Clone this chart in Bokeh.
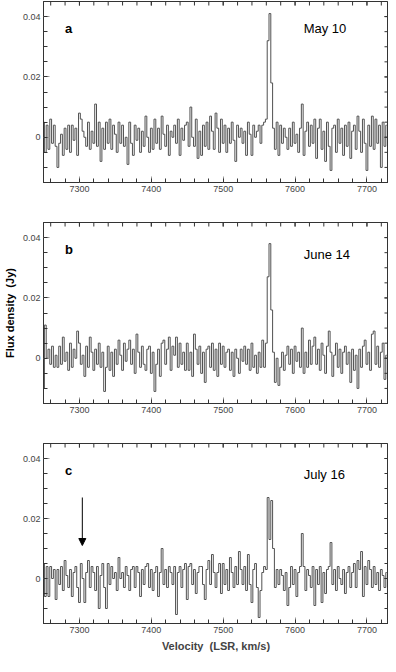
import numpy as np
from bokeh.plotting import figure
from bokeh.models import FixedTicker, Label, Arrow, NormalHead, Range1d
from bokeh.layouts import column
from bokeh.embed import file_html
from bokeh.resources import INLINE

# channel grid (LSR velocity, km/s)
v_start = 7250.0
dv = 2.5
n_chan = 192
velocity = v_start + dv * np.arange(n_chan)

# flux density (Jy), panel a: May 10
flux_may10 = [
    0.005, -0.005, 0.004, -0.004, 0.006, -0.002, 0.004, -0.003,
    -0.010, -0.002, 0.001, -0.006, 0.003, -0.004, 0.004, -0.005,
    0.004, -0.001, 0.003, -0.006, 0.008, 0.006, 0.002, 0.000,
    -0.003, 0.005, -0.004, 0.002, -0.002, 0.011, -0.003, 0.005,
    -0.008, 0.003, -0.004, 0.005, -0.002, 0.006, -0.004, 0.004,
    0.001, -0.005, 0.005, -0.002, 0.004, -0.003, 0.000, -0.009,
    0.005, -0.002, -0.006, 0.004, -0.001, 0.003, -0.005, 0.002,
    -0.003, 0.007, 0.000, -0.005, 0.003, -0.004, 0.006, -0.002,
    0.003, -0.004, 0.007, 0.001, -0.003, 0.004, -0.006, 0.002,
    0.000, 0.004, -0.002, 0.006, -0.006, 0.003, -0.001, 0.004,
    0.005, -0.003, 0.010, 0.000, -0.003, 0.006, -0.007, 0.002,
    -0.006, 0.004, -0.003, 0.005, -0.004, 0.007, 0.002, -0.004,
    0.008, 0.003, -0.005, 0.006, -0.002, 0.004, -0.005, 0.003,
    -0.002, 0.005, -0.001, -0.008, 0.004, 0.000, 0.003, -0.002,
    0.002, -0.006, 0.005, 0.001, -0.006, 0.004, 0.000, 0.002,
    0.004, -0.002, 0.004, 0.005, 0.006, 0.032, 0.041, 0.018,
    0.003, -0.004, 0.005, -0.006, 0.004, -0.002, 0.003, 0.000,
    -0.004, 0.003, -0.003, 0.005, -0.002, 0.001, -0.005, 0.003,
    0.011, -0.006, 0.002, 0.005, -0.003, 0.004, -0.002, 0.006,
    -0.007, 0.003, 0.006, -0.004, 0.002, -0.008, 0.005, -0.003,
    -0.011, 0.003, 0.004, -0.005, 0.006, -0.002, 0.003, -0.006,
    0.004, -0.003, 0.005, -0.007, 0.002, 0.004, -0.004, 0.007,
    0.002, -0.005, 0.006, -0.002, -0.011, 0.004, -0.003, 0.007,
    -0.004, 0.006, -0.002, 0.004, -0.010, 0.005, -0.003, 0.004,
]

# panel b: June 14
flux_jun14 = [
    -0.010, 0.011, 0.000, 0.003, -0.002, 0.004, -0.003, 0.001,
    -0.003, 0.004, -0.002, 0.007, -0.001, 0.002, -0.004, 0.005,
    -0.003, 0.003, 0.000, 0.009, 0.005, -0.002, 0.001, -0.006,
    0.004, -0.003, 0.007, 0.002, -0.004, 0.003, -0.002, 0.005,
    -0.003, 0.002, -0.011, -0.003, 0.004, -0.004, 0.002, -0.006,
    0.003, -0.002, 0.006, 0.001, -0.004, 0.005, -0.001, 0.003,
    0.006, -0.002, 0.003, -0.005, 0.008, 0.002, -0.003, 0.004,
    -0.002, -0.004, 0.003, 0.004, -0.005, 0.002, -0.011, -0.002,
    0.003, -0.006, 0.005, 0.006, -0.002, 0.003, 0.007, -0.004,
    0.004, 0.001, 0.007, -0.003, 0.005, -0.002, 0.002, -0.004,
    0.005, -0.004, 0.002, -0.006, 0.008, 0.003, -0.002, 0.004,
    -0.005, 0.002, -0.008, 0.003, 0.004, -0.003, 0.005, -0.004,
    0.003, -0.006, 0.005, -0.002, 0.004, -0.003, 0.002, 0.003,
    -0.004, 0.002, -0.006, 0.003, 0.000, -0.005, 0.003, -0.001,
    0.004, -0.002, 0.003, -0.004, 0.005, -0.003, 0.001, -0.005,
    0.002, -0.003, 0.006, -0.003, 0.005, 0.027, 0.038, 0.016,
    0.002, -0.008, 0.000, -0.009, -0.003, 0.002, -0.004, 0.001,
    0.004, -0.002, 0.003, -0.005, 0.004, -0.001, 0.002, -0.003,
    0.010, -0.005, 0.002, -0.003, 0.006, -0.002, 0.004, 0.007,
    -0.002, 0.003, -0.004, 0.005, 0.001, -0.005, 0.004, 0.009,
    0.002, -0.006, 0.001, 0.005, -0.003, 0.003, -0.005, 0.002,
    0.004, -0.002, 0.002, -0.008, 0.003, -0.004, 0.001, -0.010,
    0.003, -0.003, 0.004, 0.006, -0.002, 0.002, -0.004, 0.008,
    0.009, -0.002, 0.004, -0.003, 0.002, 0.005, -0.007, 0.001,
]

# panel c: July 16
flux_jul16 = [
    0.005, -0.006, 0.004, -0.006, 0.004, 0.000, 0.003, -0.007,
    0.003, -0.002, 0.004, -0.004, 0.006, 0.001, -0.003, 0.003,
    -0.006, 0.002, 0.004, -0.003, -0.008, 0.005, 0.000, -0.008,
    0.002, 0.006, -0.003, 0.004, 0.002, -0.004, 0.004, -0.010,
    0.001, 0.005, -0.003, -0.010, 0.005, -0.002, 0.004, 0.000,
    0.002, -0.004, 0.007, 0.000, 0.002, -0.003, 0.004, 0.001,
    -0.004, 0.003, 0.004, -0.003, 0.004, 0.002, -0.006, 0.003,
    -0.002, 0.004, 0.005, -0.003, 0.003, -0.004, 0.002, 0.004,
    -0.006, 0.002, 0.010, -0.002, 0.003, -0.003, 0.004, 0.002,
    -0.002, 0.004, -0.012, 0.002, 0.004, -0.003, 0.003, 0.005,
    -0.007, 0.004, 0.005, -0.002, 0.003, -0.005, 0.002, 0.004,
    0.004, -0.002, -0.007, 0.003, 0.006, -0.002, 0.008, 0.002,
    -0.003, 0.002, 0.005, -0.005, 0.005, -0.002, 0.003, -0.004,
    0.007, 0.002, -0.003, 0.004, -0.002, 0.009, 0.003, -0.002,
    0.004, -0.004, 0.008, -0.002, -0.008, 0.003, 0.005, -0.003,
    -0.013, -0.004, 0.002, 0.004, 0.003, 0.027, 0.013, 0.026,
    0.010, -0.003, 0.003, -0.002, 0.003, 0.001, -0.004, 0.002,
    -0.009, -0.003, 0.004, -0.002, 0.003, -0.006, 0.002, 0.004,
    0.015, 0.004, -0.004, 0.003, 0.001, -0.003, 0.004, -0.009,
    0.003, -0.002, 0.004, -0.008, 0.002, -0.005, 0.003, 0.004,
    0.012, -0.002, 0.003, -0.004, 0.004, 0.000, -0.002, 0.003,
    -0.005, 0.002, 0.004, -0.003, 0.002, 0.005, -0.003, 0.006,
    0.003, 0.009, -0.006, 0.004, -0.002, 0.006, 0.003, -0.003,
    0.004, -0.002, 0.002, -0.004, 0.003, 0.001, -0.003, 0.002,
]

panel_letters = ["a", "b", "c"]
dates = ["May 10", "June 14", "July 16"]
x_ticks = [7300, 7400, 7500, 7600, 7700]
y_ticks = [0, 0.02, 0.04]
y_tick_labels = {0: "0", 0.02: "0.02", 0.04: "0.04"}
arrow_velocity = 7304
arrow_flux = (0.027, 0.011)

FONT = "Liberation Sans"
LINE = "#505050"

X_RANGE = (7250, 7730)
Y_RANGE = (-0.015, 0.045)
x_minor = list(range(7260, 7730, 20))
y_minor = [-0.015 + 0.005 * k for k in range(13)]

FIG_W = 388


def style_axis(ax):
    ax.axis_line_color = "#333333"
    ax.major_tick_in = 6
    ax.major_tick_out = 0
    ax.minor_tick_in = 4
    ax.minor_tick_out = 0
    ax.major_tick_line_color = "#9a9a9a"
    ax.minor_tick_line_color = "#333333"
    ax.major_label_text_font = FONT
    ax.major_label_text_color = "#444444"
    ax.major_label_text_font_size = "9px"
    ax.major_label_standoff = 3


def make_panel(flux, letter, date, height, bottom, last, date_y):
    p = figure(width=FIG_W, height=height,
               x_range=Range1d(*X_RANGE), y_range=Range1d(*Y_RANGE),
               output_backend="svg", toolbar_location=None,
               min_border_left=33, min_border_right=0,
               min_border_top=1, min_border_bottom=bottom)
    p.grid.visible = False
    p.outline_line_color = "#333333"
    p.background_fill_color = "white"
    p.border_fill_color = "white"

    p.step(velocity, flux, mode="center", line_color=LINE, line_width=1)

    xax = p.below[0]
    yax = p.left[0]
    xax.ticker = FixedTicker(ticks=x_ticks, minor_ticks=x_minor)
    yax.ticker = FixedTicker(ticks=y_ticks, minor_ticks=y_minor)
    yax.major_label_overrides = y_tick_labels
    style_axis(xax)
    style_axis(yax)

    # inward tick marks on the top and right edges (dashes clipped by the frame)
    top_ticks = sorted(x_ticks + x_minor)
    p.dash(x=top_ticks, y=[Y_RANGE[1]] * len(top_ticks), size=8,
           angle=np.pi / 2, line_color="#333333", line_width=1)
    right_ticks = sorted(y_ticks + y_minor)
    p.dash(x=[X_RANGE[1]] * len(right_ticks), y=right_ticks, size=8,
           line_color="#333333", line_width=1)

    # y-axis label on every panel (visible on the middle one) to keep alignment
    yax.axis_label = "Flux density \u00a0(Jy)"
    yax.axis_label_text_font = FONT
    yax.axis_label_text_font_style = "bold"
    yax.axis_label_text_font_size = "11px"
    yax.axis_label_standoff = 4
    yax.axis_label_text_color = "black" if letter == "b" else None

    if last:
        xax.axis_label = "Velocity \u00a0(LSR, km/s)"
        xax.axis_label_text_font = FONT
        xax.axis_label_text_font_style = "bold"
        xax.axis_label_text_font_size = "11px"
        xax.axis_label_standoff = 4

    p.add_layout(Label(x=7280, y=0.0361, text=letter, text_font=FONT,
                       text_font_style="bold", text_font_size="13px",
                       text_color="black", text_baseline="alphabetic"))
    p.add_layout(Label(x=7612, y=date_y, text=date, text_font=FONT,
                       text_font_size="13px", text_color="black",
                       text_baseline="alphabetic"))
    return p


pa = make_panel(flux_may10, panel_letters[0], dates[0], 221, 39, False, 0.036)
pb = make_panel(flux_jun14, panel_letters[1], dates[1], 221, 39, False, 0.0345)
pc = make_panel(flux_jul16, panel_letters[2], dates[2], 212, 30, True, 0.0346)

pc.add_layout(Arrow(end=NormalHead(size=7, fill_color="black", line_color="black"),
                    x_start=arrow_velocity, y_start=arrow_flux[0],
                    x_end=arrow_velocity, y_end=arrow_flux[1],
                    line_color="black", line_width=1))

layout = column(pa, pb, pc, spacing=0)
open("out.html", "w").write(file_html(layout, INLINE))
